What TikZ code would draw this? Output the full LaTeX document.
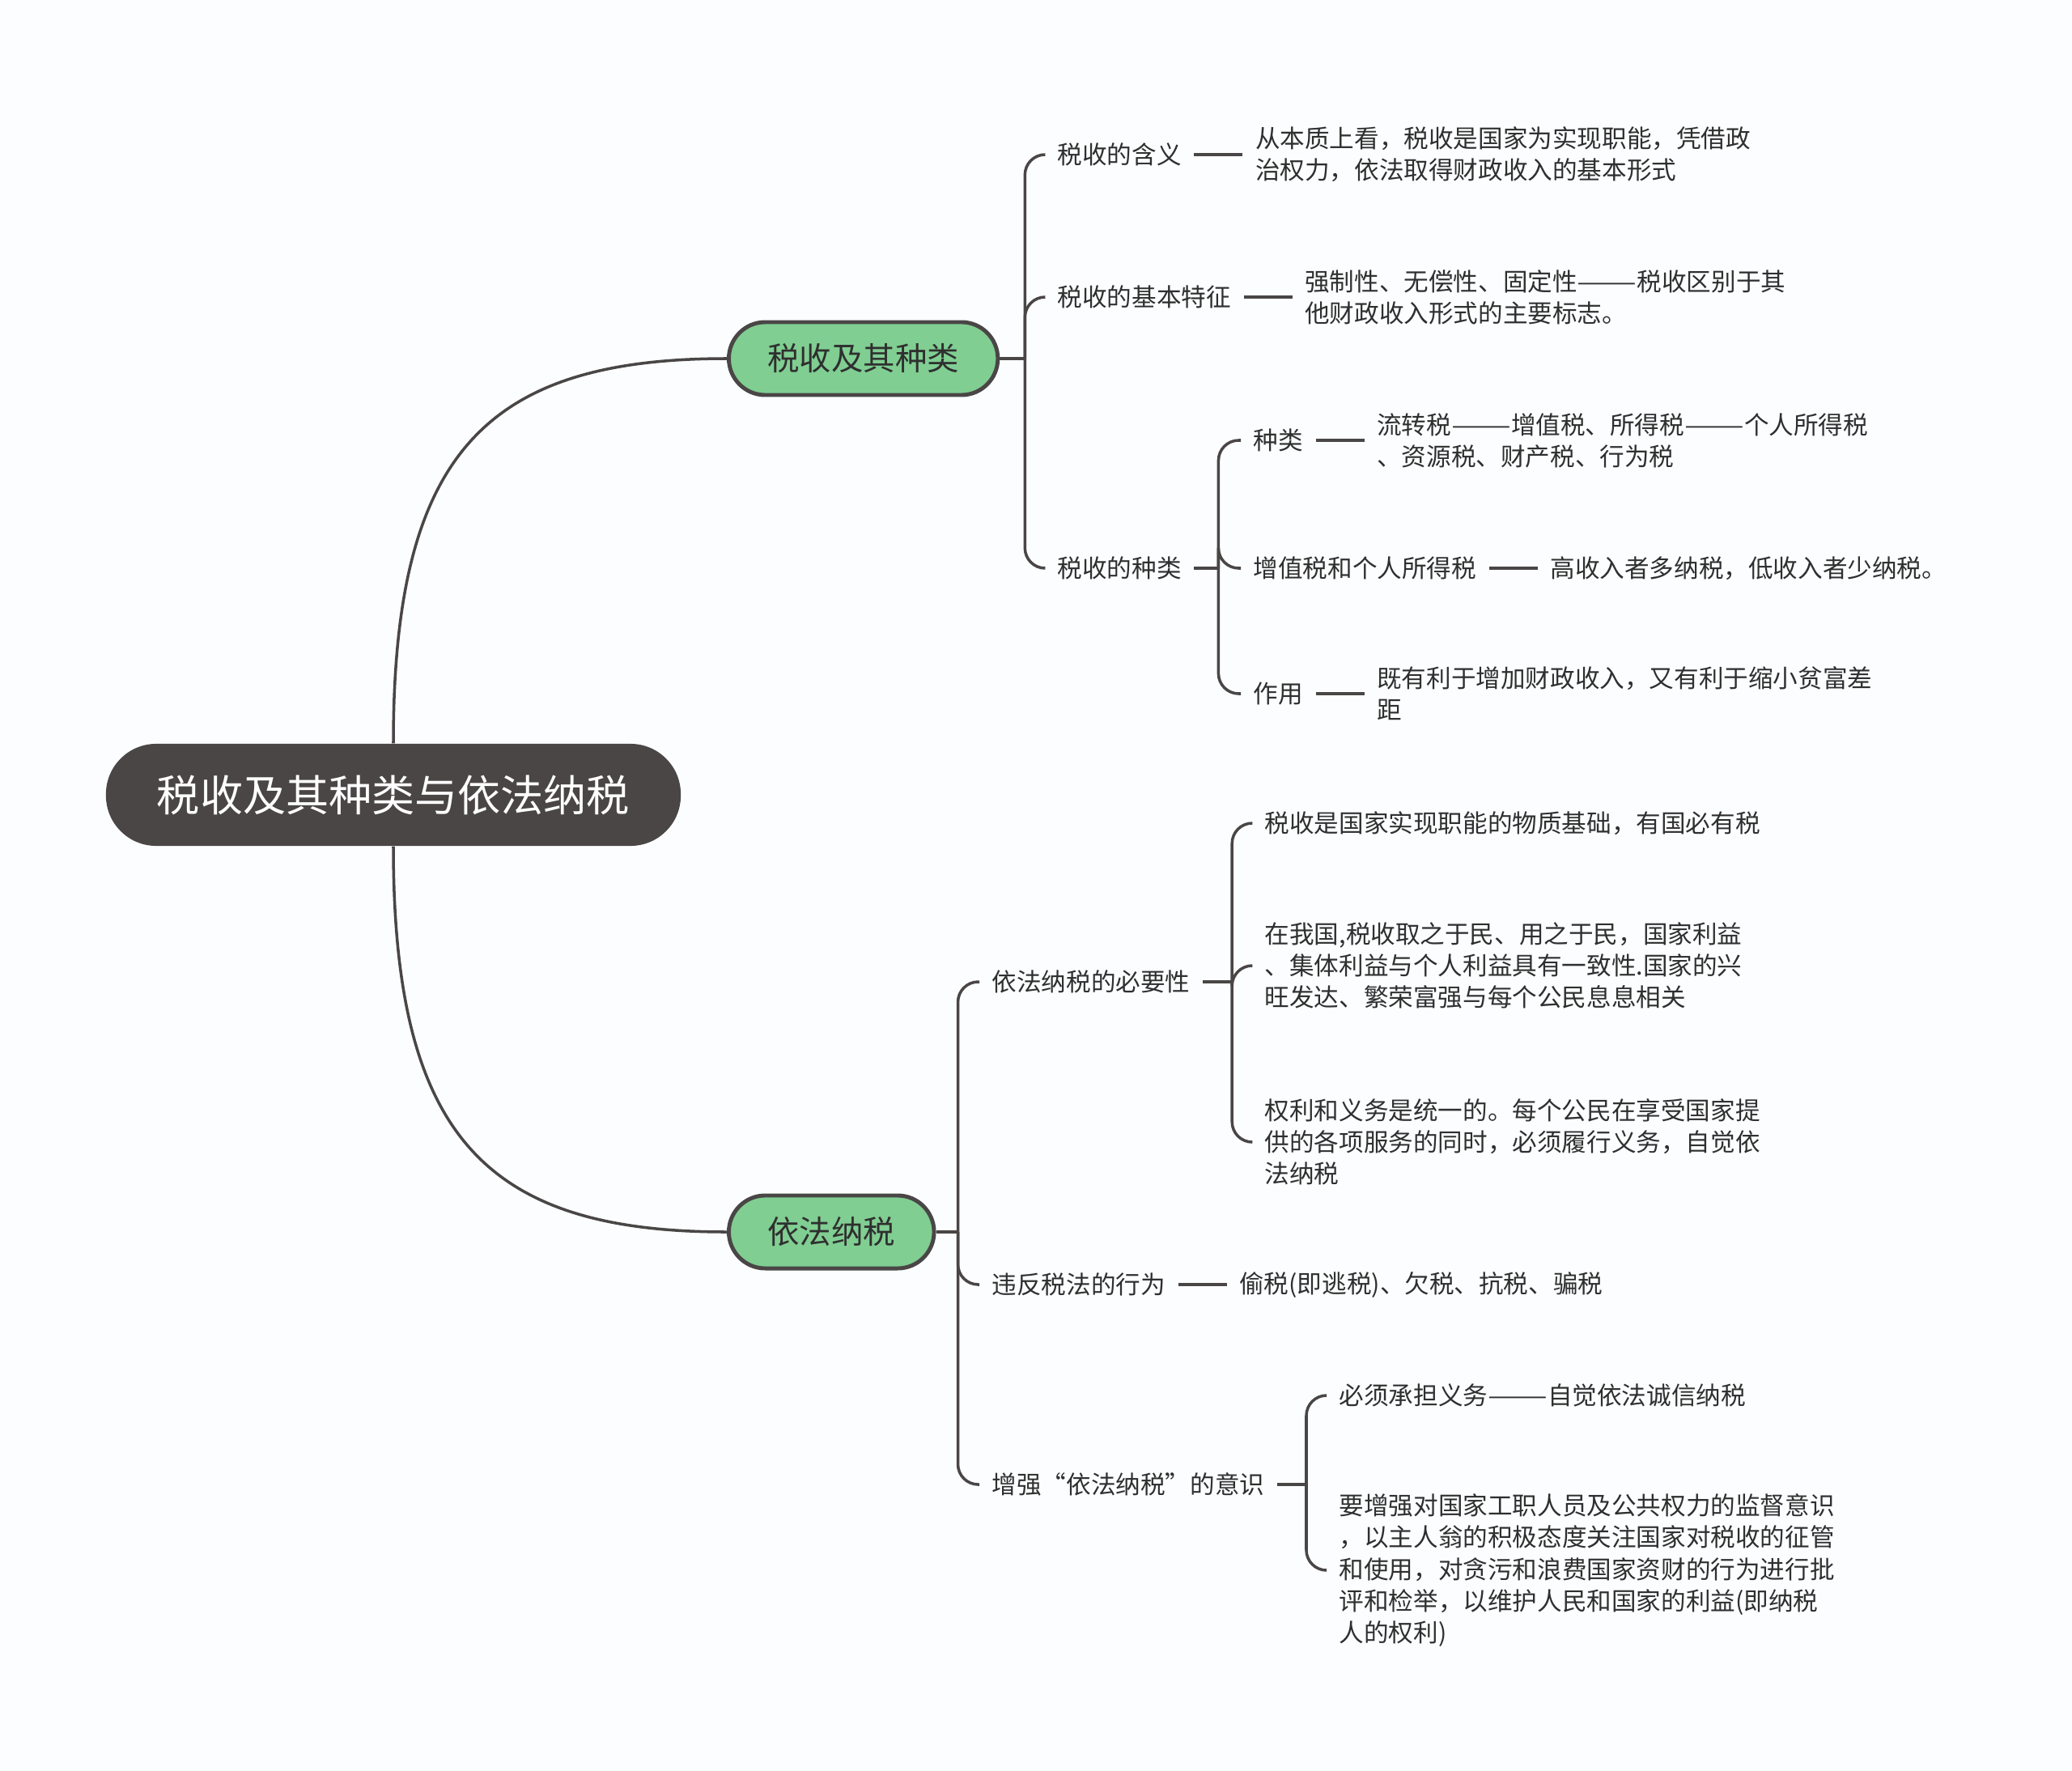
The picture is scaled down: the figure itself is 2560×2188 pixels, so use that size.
\documentclass[tikz,border=0pt]{standalone}
\usepackage{fontspec}
\setmainfont{Noto Sans CJK SC}
\usepackage{tikz}
\usetikzlibrary{positioning, calc}
\definecolor{linegray}{HTML}{4A4646}
\definecolor{topicgreen}{HTML}{80CE92}
\definecolor{textgray}{HTML}{2F2F2F}
\definecolor{paper}{HTML}{FBFDFE}
\newcommand{\dashpair}{\scalebox{1.44}[1]{——}}

\begin{document}
\begin{tikzpicture}[x=0.01cm, y=-0.01cm, node distance=0.6cm,
    rootbox/.style={fill=linegray, text=white, rounded corners=0.62cm, minimum height=1.26cm, inner xsep=0.63cm, font=\fontsize{15.1pt}{18pt}\selectfont},
    topicbox/.style={draw=linegray, line width=1.4pt, fill=topicgreen, text=textgray, rounded corners=0.45cm, minimum height=0.9cm, inner xsep=0.48cm, font=\fontsize{11.2pt}{13pt}\selectfont},
    textnode/.style={anchor=west, inner xsep=0.15cm, inner ysep=0.05cm, align=left, text=textgray, font=\fontsize{8.7pt}{11.1pt}\selectfont},
    branch/.style={draw=linegray, line width=1pt},
    bracket/.style={branch, rounded corners=0.25cm},
]
    % Background
    \fill[paper] (0,0) rectangle (2560,2188);

    % Root and main topics
    \node[rootbox] (root) at (486,982) {税收及其种类与依法纳税};
    \node[topicbox, anchor=west] (tax) at (898,443) {税收及其种类};
    \node[topicbox, anchor=west] (law) at (898,1522) {依法纳税};
    \draw[branch] (root.north) .. controls (486,560) and (600,443) .. (tax.west);
    \draw[branch] (root.south) .. controls (486,1404) and (600,1522) .. (law.west);

    % Tax and its kinds
    \coordinate (jt) at ([xshift=0.31cm]tax.east);
    \node[textnode] (t1) at (1291,191) {税收的含义};
    \node[textnode] (t2) at (1291,367) {税收的基本特征};
    \node[textnode] (t3) at (1291,702) {税收的种类};
    \draw[branch] (tax.east) -- (jt);
    \foreach \c in {t1,t2,t3}
        \draw[bracket] (jt) |- (\c.west);

    \node[textnode, right=of t1] (t1a) {从本质上看，税收是国家为实现职能，凭借政\\治权力，依法取得财政收入的基本形式};
    \node[textnode, right=of t2] (t2a) {强制性、无偿性、固定性\dashpair 税收区别于其\\他财政收入形式的主要标志。};
    \draw[branch] (t1) -- (t1a);
    \draw[branch] (t2) -- (t2a);

    \coordinate (jk) at ([xshift=0.3cm]t3.east);
    \node[textnode] (k1) at (1533,544) {种类};
    \node[textnode] (k2) at (1533,702) {增值税和个人所得税};
    \node[textnode] (k3) at (1533,857) {作用};
    \draw[branch] (t3) -- (jk);
    \foreach \c in {k1,k2,k3}
        \draw[bracket] (jk) |- (\c.west);

    \node[textnode, right=of k1] (k1a) {流转税\dashpair 增值税、所得税\dashpair 个人所得税\\、资源税、财产税、行为税};
    \node[textnode, right=of k2] (k2a) {高收入者多纳税，低收入者少纳税。};
    \node[textnode, right=of k3] (k3a) {既有利于增加财政收入，又有利于缩小贫富差\\距};
    \draw[branch] (k1) -- (k1a);
    \draw[branch] (k2) -- (k2a);
    \draw[branch] (k3) -- (k3a);

    % Paying taxes by law
    \coordinate (jl) at ([xshift=0.27cm]law.east);
    \node[textnode] (l1) at (1210,1213) {依法纳税的必要性};
    \node[textnode] (l2) at (1210,1587) {违反税法的行为};
    \node[textnode] (l3) at (1210,1834) {增强“依法纳税”的意识};
    \draw[branch] (law.east) -- (jl);
    \foreach \c in {l1,l2,l3}
        \draw[bracket] (jl) |- (\c.west);

    \coordinate (jn) at ([xshift=0.36cm]l1.east);
    \node[textnode] (n1) at (1547,1017) {税收是国家实现职能的物质基础，有国必有税};
    \node[textnode] (n2) at (1547,1193) {在我国,税收取之于民、用之于民，国家利益\\、集体利益与个人利益具有一致性.国家的兴\\旺发达、繁荣富强与每个公民息息相关};
    \node[textnode] (n3) at (1547,1411) {权利和义务是统一的。每个公民在享受国家提\\供的各项服务的同时，必须履行义务，自觉依\\法纳税};
    \draw[branch] (l1) -- (jn);
    \foreach \c in {n1,n2,n3}
        \draw[bracket] (jn) |- (\c.west);

    \node[textnode, right=of l2] (l2a) {偷税(即逃税)、欠税、抗税、骗税};
    \draw[branch] (l2) -- (l2a);

    \coordinate (ja) at ([xshift=0.36cm]l3.east);
    \node[textnode] (a1) at (1639,1724) {必须承担义务\dashpair 自觉依法诚信纳税};
    \node[textnode] (a2) at (1639,1940) {要增强对国家工职人员及公共权力的监督意识\\，以主人翁的积极态度关注国家对税收的征管\\和使用，对贪污和浪费国家资财的行为进行批\\评和检举，以维护人民和国家的利益(即纳税\\人的权利)};
    \draw[branch] (l3) -- (ja);
    \foreach \c in {a1,a2}
        \draw[bracket] (ja) |- (\c.west);
\end{tikzpicture}
\end{document}
